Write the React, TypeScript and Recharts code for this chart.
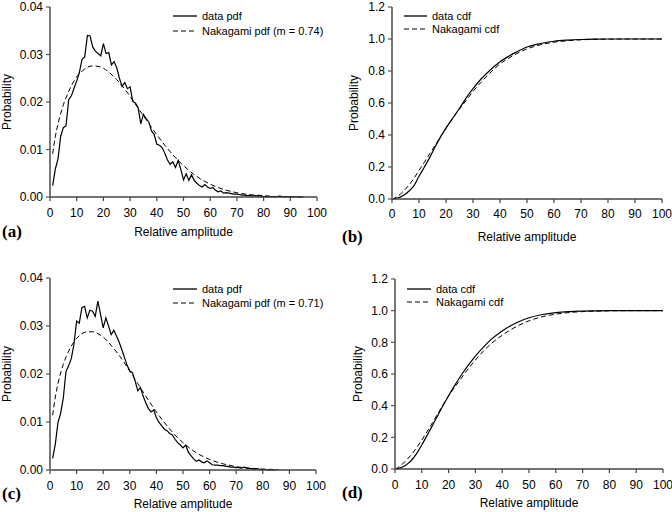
import React from "react";
import { LineChart, Line, XAxis, YAxis, Label } from "recharts";

const SANS = "'Liberation Sans', Arial, sans-serif";
const SERIF = "'Liberation Serif', 'Times New Roman', serif";

// amplitude bins for the measured pdfs
const ampDataA = [
  1, 2, 3, 4, 5, 6, 7, 8, 9, 10, 11, 12, 13, 14, 15, 16, 17, 18, 19, 20,
  21, 22, 23, 24, 25, 26, 27, 28, 29, 30, 31, 32, 33, 34, 35, 36, 37, 38, 39, 40,
  41, 42, 43, 44, 45, 46, 47, 48, 49, 50, 51, 52, 53, 54, 55, 56, 57, 58, 59, 60,
  61, 62, 63, 64, 65, 66, 67, 68, 69, 70, 71, 72, 73, 74, 75, 76, 77, 78, 79, 80,
  81, 82, 83, 84, 85, 86, 87, 88, 89, 90, 91, 92, 93, 94, 95,
];
const dataPdfA = [
  0.0024, 0.0059, 0.008, 0.0128, 0.0146, 0.015, 0.0205, 0.0213, 0.0229, 0.0244,
  0.0262, 0.029, 0.0295, 0.034, 0.0339, 0.0316, 0.0307, 0.0302, 0.0297, 0.0323,
  0.0302, 0.0304, 0.0278, 0.0285, 0.0272, 0.025, 0.0233, 0.0241, 0.0228, 0.0232,
  0.0201, 0.0198, 0.0188, 0.0154, 0.0174, 0.0165, 0.0158, 0.0139, 0.0132, 0.0111,
  0.0109, 0.0104, 0.0092, 0.0078, 0.0069, 0.0074, 0.0062, 0.0077, 0.0058, 0.0036,
  0.0049, 0.0035, 0.0047, 0.0035, 0.0029, 0.0024, 0.0021, 0.0026, 0.0021, 0.0018,
  0.002, 0.0014, 0.0011, 0.0013, 0.0008, 0.0009, 0.0008, 0.0007, 0.0006, 0.0006,
  0.0005, 0.0004, 0.0004, 0.0003, 0.0003, 0.0002, 0.0003, 0.0002, 0.0002, 0.0001,
  0.0001, 0.0001, 0.0001, 0.0001, 0.0001, 0.0002, 0.0001, 0.0001, 0.0001, 0.0,
  0.0, 0.0001, 0.0, 0.0, 0.0,
];

const ampDataC = [
  1, 2, 3, 4, 5, 6, 7, 8, 9, 10, 11, 12, 13, 14, 15, 16, 17, 18, 19, 20,
  21, 22, 23, 24, 25, 26, 27, 28, 29, 30, 31, 32, 33, 34, 35, 36, 37, 38, 39, 40,
  41, 42, 43, 44, 45, 46, 47, 48, 49, 50, 51, 52, 53, 54, 55, 56, 57, 58, 59, 60,
  61, 62, 63, 64, 65, 66, 67, 68, 69, 70, 71, 72, 73, 74, 75, 76, 77, 78, 79, 80,
  81, 82, 83, 84, 85,
];
const dataPdfC = [
  0.0024, 0.0054, 0.0099, 0.0118, 0.015, 0.0205, 0.0217, 0.0232, 0.0262, 0.031,
  0.0306, 0.0338, 0.0341, 0.0317, 0.0333, 0.0331, 0.032, 0.0352, 0.0324, 0.0296,
  0.0317, 0.03, 0.0282, 0.0291, 0.0279, 0.0266, 0.0251, 0.0234, 0.0218, 0.0206,
  0.0203, 0.0185, 0.0165, 0.0172, 0.0154, 0.014, 0.0128, 0.0121, 0.0125, 0.0109,
  0.0099, 0.0092, 0.0085, 0.0082, 0.0076, 0.0073, 0.0064, 0.0057, 0.0052, 0.0046,
  0.0052, 0.0037, 0.003, 0.0023, 0.0018, 0.0021, 0.0017, 0.0015, 0.0019, 0.0015,
  0.0011, 0.001, 0.001, 0.0009, 0.0009, 0.0008, 0.0007, 0.0006, 0.0006, 0.0005,
  0.0005, 0.0004, 0.0006, 0.0004, 0.0003, 0.0003, 0.0002, 0.0003, 0.0001, 0.0001,
  0.0001, 0.0, 0.0, 0.0, 0.0,
];

// fitted Nakagami pdfs
const ampFitA = [1, 2, 3, 4, 5, 6, 8, 10, 12, 14, 16, 18, 20, 22, 25, 28, 30, 33, 36, 40, 43, 46, 50, 55, 60, 65, 70, 75, 80, 85, 90, 95];
const fitPdfA = [
  0.0091, 0.0127, 0.0154, 0.0175, 0.0194, 0.0209, 0.0234, 0.0253, 0.0265, 0.0273, 0.0276,
  0.0275, 0.0271, 0.0263, 0.0247, 0.0227, 0.0212, 0.0187, 0.0163, 0.0131, 0.0109, 0.0089,
  0.0066, 0.0043, 0.0027, 0.0016, 0.0009, 0.0005, 0.0003, 0.0001, 0.0001, 0.0,
];
const ampFitC = [1, 2, 3, 4, 5, 6, 8, 10, 12, 14, 16, 18, 20, 22, 25, 28, 30, 33, 36, 40, 43, 46, 50, 55, 60, 65, 70, 75, 80, 86];
const fitPdfC = [
  0.0114, 0.0152, 0.018, 0.0202, 0.022, 0.0235, 0.0258, 0.0274, 0.0284, 0.0288, 0.0288,
  0.0284, 0.0277, 0.0266, 0.0246, 0.0223, 0.0206, 0.018, 0.0154, 0.0121, 0.0099, 0.0079,
  0.0057, 0.0036, 0.0022, 0.0013, 0.0007, 0.0004, 0.0002, 0.0001,
];

// cdfs
const ampCdf = [0, 1, 2, 3, 4, 5, 6, 8, 10, 12, 14, 16, 18, 20, 22, 25, 28, 30, 33, 36, 40, 43, 46, 50, 55, 60, 65, 70, 75, 80, 90, 100];
const dataCdfB = [
  0, 0.002, 0.006, 0.012, 0.02, 0.031, 0.045, 0.08, 0.142, 0.2, 0.26, 0.326, 0.388, 0.443,
  0.493, 0.567, 0.645, 0.69, 0.75, 0.8, 0.858, 0.89, 0.918, 0.95, 0.972, 0.986, 0.993, 0.997,
  0.999, 1, 1, 1,
];
const fitCdfB = [
  0, 0.006, 0.016, 0.029, 0.045, 0.062, 0.081, 0.126, 0.178, 0.23, 0.284, 0.336, 0.39, 0.443,
  0.492, 0.562, 0.628, 0.672, 0.73, 0.782, 0.845, 0.878, 0.907, 0.938, 0.964, 0.98, 0.989,
  0.995, 0.998, 0.999, 1, 1,
];
const dataCdfD = [
  0, 0.002, 0.007, 0.014, 0.024, 0.037, 0.052, 0.095, 0.152, 0.213, 0.276, 0.34, 0.403, 0.463,
  0.52, 0.6, 0.67, 0.713, 0.77, 0.82, 0.872, 0.903, 0.928, 0.955, 0.976, 0.988, 0.994, 0.997,
  0.999, 1, 1, 1,
];
const fitCdfD = [
  0, 0.008, 0.02, 0.035, 0.051, 0.069, 0.088, 0.133, 0.183, 0.237, 0.293, 0.35, 0.408, 0.462,
  0.51, 0.58, 0.648, 0.688, 0.745, 0.793, 0.845, 0.878, 0.906, 0.936, 0.962, 0.978, 0.988,
  0.994, 0.997, 0.999, 1, 1,
];

const xTicks = [0, 10, 20, 30, 40, 50, 60, 70, 80, 90, 100];
const pdfTicks = [0, 0.01, 0.02, 0.03, 0.04];
const cdfTicks = [0, 0.2, 0.4, 0.6, 0.8, 1.0, 1.2];

const toPoints = (xs: number[], ys: number[]) => xs.map((x, i) => ({ x, y: ys[i] }));

interface PanelProps {
  left: number;
  top: number;
  width: number;
  height: number;
  margin: { top: number; right: number; left: number; bottom: number };
  yWidth: number;
  xHeight: number;
  yMax: number;
  yTicks: number[];
  digits: number;
  solid: { x: number; y: number }[];
  dashed: { x: number; y: number }[];
  smoothSolid: boolean;
  xTickGap: number;
  xTitleOffset: number;
  yTitleOffset: number;
  tag: string;
  tagTop: number;
  legend: [string, string];
  legendX: number;
  legendY: [number, number];
  lineLen: number;
}

const Panel: React.FC<PanelProps> = (p) => {
  const tick = { fontSize: 12, fill: "#000", fontFamily: SANS };
  return (
    <>
      <div style={{ position: "absolute", left: p.left, top: p.top }}>
        <LineChart width={p.width} height={p.height} margin={p.margin}>
          <XAxis
            type="number"
            dataKey="x"
            domain={[0, 100]}
            ticks={xTicks}
            interval={0}
            tick={tick}
            tickSize={4}
            tickMargin={p.xTickGap}
            height={p.xHeight}
            axisLine={{ stroke: "#444", strokeWidth: 1.5 }}
            tickLine={{ stroke: "#444", strokeWidth: 1.2 }}
          >
            <Label
              value="Relative amplitude"
              position="insideBottom"
              offset={p.xTitleOffset}
              style={{ fontSize: 12, fill: "#000", fontFamily: SANS }}
            />
          </XAxis>
          <YAxis
            type="number"
            dataKey="y"
            domain={[0, p.yMax]}
            ticks={p.yTicks}
            interval={0}
            tickFormatter={(v: number) => v.toFixed(p.digits)}
            tick={tick}
            tickSize={4}
            tickMargin={3}
            width={p.yWidth}
            axisLine={{ stroke: "#777", strokeWidth: 2 }}
            tickLine={{ stroke: "#555", strokeWidth: 1.2 }}
          >
            <Label
              value="Probability"
              angle={-90}
              position="insideLeft"
              offset={p.yTitleOffset}
              style={{ fontSize: 12, fill: "#000", fontFamily: SANS, textAnchor: "middle" }}
            />
          </YAxis>
          <Line
            data={p.dashed}
            dataKey="y"
            type="monotone"
            stroke="#000"
            strokeWidth={1}
            strokeDasharray="5 3"
            dot={false}
            isAnimationActive={false}
          />
          <Line
            data={p.solid}
            dataKey="y"
            type={p.smoothSolid ? "monotone" : "linear"}
            stroke="#000"
            strokeWidth={1.2}
            dot={false}
            isAnimationActive={false}
          />
        </LineChart>
      </div>
      <div
        style={{
          position: "absolute",
          left: p.left + 2,
          top: p.tagTop,
          fontFamily: SERIF,
          fontWeight: "bold",
          fontSize: 17,
          lineHeight: "20px",
        }}
      >
        {p.tag}
      </div>
      {p.legend.map((name, i) => (
        <div
          key={name}
          style={{
            position: "absolute",
            left: p.legendX,
            top: p.legendY[i] - 8,
            height: 16,
            display: "flex",
            alignItems: "center",
            fontFamily: SANS,
            fontSize: 11,
            whiteSpace: "nowrap",
          }}
        >
          <svg width={p.lineLen + 5} height={16}>
            <line
              x1={0}
              y1={8}
              x2={p.lineLen}
              y2={8}
              stroke="#000"
              strokeWidth={i === 0 ? 1.3 : 1}
              strokeDasharray={i === 0 ? undefined : "5 3"}
            />
          </svg>
          <span>{name}</span>
        </div>
      ))}
    </>
  );
};

export default function App() {
  return (
    <div style={{ position: "absolute", left: 0, top: 0, width: 672, height: 512, background: "#fff" }}>
      <Panel
        left={0}
        top={0}
        width={330}
        height={250}
        margin={{ top: 7, right: 13, left: 0, bottom: 0 }}
        yWidth={50}
        xHeight={53}
        yMax={0.04}
        yTicks={pdfTicks}
        digits={2}
        solid={toPoints(ampDataA, dataPdfA)}
        dashed={toPoints(ampFitA, fitPdfA)}
        smoothSolid={false}
        xTickGap={7}
        xTitleOffset={14}
        yTitleOffset={7}
        tag="(a)"
        tagTop={222}
        legend={["data pdf", "Nakagami pdf (m = 0.74)"]}
        legendX={173}
        legendY={[16, 31]}
        lineLen={24}
      />
      <Panel
        left={340}
        top={0}
        width={332}
        height={250}
        margin={{ top: 7, right: 10, left: 0, bottom: 0 }}
        yWidth={52}
        xHeight={51}
        yMax={1.2}
        yTicks={cdfTicks}
        digits={1}
        solid={toPoints(ampCdf, dataCdfB)}
        dashed={toPoints(ampCdf, fitCdfB)}
        smoothSolid={true}
        xTickGap={6}
        xTitleOffset={9}
        yTitleOffset={14}
        tag="(b)"
        tagTop={227}
        legend={["data cdf", "Nakagami cdf"]}
        legendX={404}
        legendY={[16, 29]}
        lineLen={23}
      />
      <Panel
        left={0}
        top={256}
        width={330}
        height={256}
        margin={{ top: 22, right: 14, left: 0, bottom: 0 }}
        yWidth={50}
        xHeight={42}
        yMax={0.04}
        yTicks={pdfTicks}
        digits={2}
        solid={toPoints(ampDataC, dataPdfC)}
        dashed={toPoints(ampFitC, fitPdfC)}
        smoothSolid={false}
        xTickGap={7}
        xTitleOffset={4}
        yTitleOffset={7}
        tag="(c)"
        tagTop={484}
        legend={["data pdf", "Nakagami pdf (m = 0.71)"]}
        legendX={173}
        legendY={[289, 303]}
        lineLen={24}
      />
      <Panel
        left={340}
        top={256}
        width={332}
        height={256}
        margin={{ top: 23, right: 9, left: 0, bottom: 0 }}
        yWidth={55}
        xHeight={43}
        yMax={1.2}
        yTicks={cdfTicks}
        digits={1}
        solid={toPoints(ampCdf, dataCdfD)}
        dashed={toPoints(ampCdf, fitCdfD)}
        smoothSolid={true}
        xTickGap={7}
        xTitleOffset={5}
        yTitleOffset={18}
        tag="(d)"
        tagTop={483}
        legend={["data cdf", "Nakagami cdf"]}
        legendX={407}
        legendY={[289, 302]}
        lineLen={24}
      />
    </div>
  );
}
